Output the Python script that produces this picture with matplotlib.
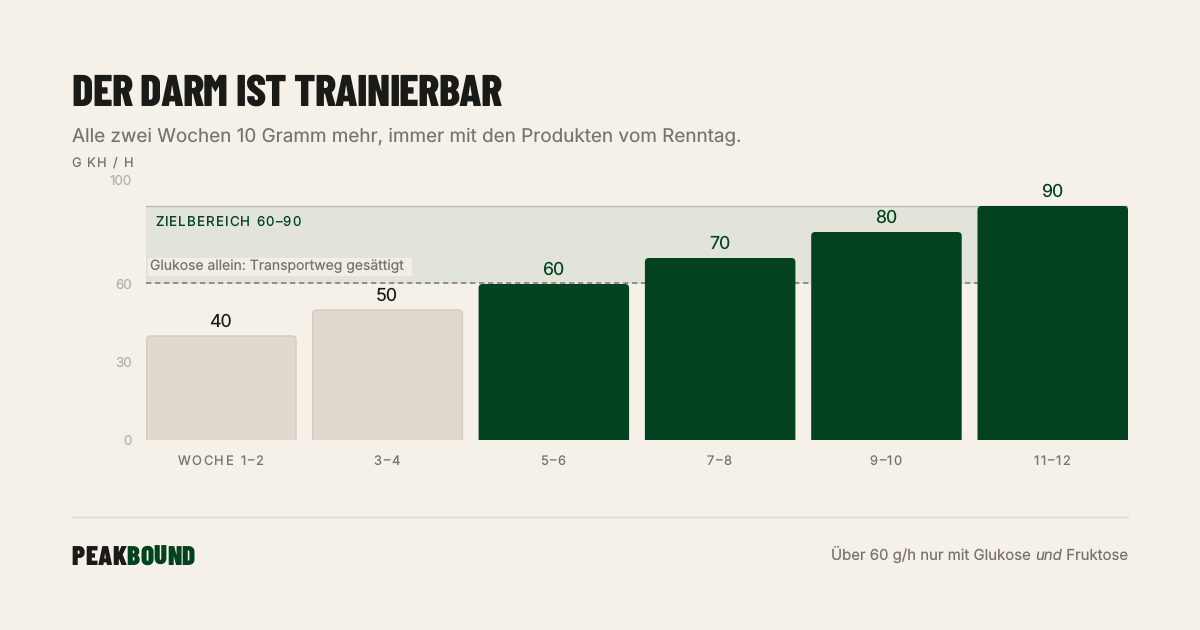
import types
import matplotlib
matplotlib.use("Agg")
import matplotlib.pyplot as plt
from matplotlib.patches import FancyBboxPatch
from matplotlib.text import Text

weeks = ["WOCHE 1–2", "3–4", "5–6", "7–8", "9–10", "11–12"]
carbs = [40, 50, 60, 70, 80, 90]
yticks = [0, 30, 60, 100]
zone_low, zone_high = 60, 90

BG = "#f5f1e9"; GREEN = "#03421e"; INK = "#1a1a17"; BEIGE = "#e2d9ce"; BEIGE_EDGE = "#d6cdc0"
MUTED = "#79736b"; TICK = "#b6b1a8"; ZONE = "#e2e4d9"
W, H = 1200, 630
BODY = ["Inter", "DejaVu Sans"]; COND = ["Barlow Condensed", "Liberation Sans", "DejaVu Sans"]
plt.rcParams["text.hinting"] = "no_hinting"

def fx(x): return x / W
def fy(y): return 1 - y / H

def track(t, spacing, nudge=-1.0):
    """Draw a Text with letter spacing (px); the artist keeps its whole string."""
    def draw(self, renderer):
        if not self.get_visible() or not self.get_text():
            return
        s = self.get_text()
        fp = self.get_fontproperties()
        box = Text.get_window_extent(self, renderer)
        base_d = renderer.get_text_width_height_descent("lp", fp, False)[2]
        total = box.width + spacing * (len(s) - 1)
        ha = self.get_ha()
        x0 = {"left": box.x0, "right": box.x1 - total}.get(ha, (box.x0 + box.x1) / 2 - total / 2)
        y = box.y0 + base_d
        for i, ch in enumerate(s):
            adv = renderer.get_text_width_height_descent(s[:i], fp, False)[0] if i else 0
            Text(x0 + nudge + adv + i * spacing, y, ch, fontproperties=fp, color=self.get_color(),
                 ha="left", va="baseline", transform=None, figure=self.get_figure()).draw(renderer)
    t.draw = types.MethodType(draw, t)
    return t

fig = plt.figure(figsize=(12, 6.3), dpi=100, facecolor=BG)
ax = fig.add_axes([fx(146), fy(440), 982 / W, 260 / H], facecolor=BG)
bw = 0.905
ax.set_xlim(-bw / 2, 5 + bw / 2)
ax.set_ylim(0, 100)
for s in ax.spines.values():
    s.set_visible(False)

# target zone
ax.axhspan(zone_low, zone_high, color=ZONE, lw=0, zorder=1)
ax.axhline(zone_high, color="#b6bcae", lw=1.0, zorder=1.5)
ax.axhline(zone_low + 0.2, color="#85807a", lw=1.2, ls=(0, (3.2, 2.2)), zorder=1.5)
ax.axhline(0, color="#e6e1d8", lw=1, zorder=1.5)

# bars with rounded corners, base clipped by the axes
rect_bars = ax.bar(range(len(carbs)), carbs, width=bw, color="none", lw=0)
aspect = (100 / 260) / ((5 + bw) / 982)
unit_x = (5 + bw) / 982
for i, (bar, v) in enumerate(zip(rect_bars, carbs)):
    hi = v >= zone_low
    r = 4 * unit_x
    inset = 0 if hi else 0.5 * unit_x
    p = FancyBboxPatch((bar.get_x() + r + inset, -5), bar.get_width() - 2 * (r + inset), v + 5 - r * aspect,
                       boxstyle=f"round,pad={r},rounding_size={r}", mutation_aspect=aspect,
                       fc=GREEN if hi else BEIGE, ec=GREEN if hi else BEIGE_EDGE,
                       lw=0 if hi else 1.1, zorder=3, clip_on=True)
    ax.add_patch(p)
    ax.text(i - 0.003, v + 2.3, str(v), ha="center", va="bottom", fontsize=12.8, family=BODY,
            color=GREEN if hi else INK, zorder=4)

ax.set_xticks(range(len(weeks)), weeks)
ax.set_yticks(yticks)
ax.tick_params(axis="both", length=0)
ax.tick_params(axis="x", pad=10.8, labelsize=9.3, labelcolor=MUTED)
ax.tick_params(axis="y", pad=10, labelsize=9.6, labelcolor=TICK)
for t in ax.get_xticklabels():
    t.set_family(BODY)
    track(t, 1.6)
for t in ax.get_yticklabels():
    t.set_family(BODY)
    t.set_va("center_baseline")

# annotations inside the chart
track(fig.text(fx(156), fy(222.5), "ZIELBEREICH 60–90", fontsize=9.6, family=BODY, color=GREEN,
               va="center", zorder=5), 1.1)
fig.patches.append(plt.Rectangle((fx(148), fy(276)), 264 / W, 18 / H, transform=fig.transFigure,
                                 fc=BG, ec="none", alpha=0.82, zorder=4))
fig.text(fx(150), fy(266.5), "Glukose allein: Transportweg gesättigt", fontsize=10.05, family=BODY, color=MUTED,
         va="center", zorder=5)
track(fig.text(fx(72), fy(163), "G KH / H", fontsize=9.3, family=BODY, color=MUTED, va="center"), 1.4)

# header
track(fig.text(fx(71.5), fy(106), "DER DARM IST TRAINIERBAR", fontsize=32, family=COND, weight=800,
               color=INK, va="baseline"), -0.72, nudge=0)
fig.text(fx(72), fy(142), "Alle zwei Wochen 10 Gramm mehr, immer mit den Produkten vom Renntag.",
         fontsize=13.6, family=BODY, color=MUTED, va="baseline")

# footer
fig.add_artist(plt.Line2D([fx(72), fx(1127.5)], [fy(516.5)] * 2, color="#dcd7cd", lw=1))
renderer = fig.canvas.get_renderer()
a = track(fig.text(fx(72), fy(565), "PEAK", fontsize=19.5, family=COND, weight=900, color=INK, va="baseline"),
          0.35, nudge=-0.5)
x = a.get_window_extent(renderer).x1 + 1.6
track(fig.text(x / W, fy(565), "BOUND", fontsize=19.5, family=COND, weight=900, color=GREEN, va="baseline"),
      0.35, nudge=-0.5)

x = 1128
for s, style in [(" Fruktose", "normal"), ("und", "italic"), ("Über 60 g/h nur mit Glukose ", "normal")]:
    t = fig.text(x / W, fy(560), s.replace(" ", "\u00a0"), fontsize=10.75, family=BODY, style=style, color=MUTED,
                 ha="right", va="baseline")
    x = t.get_window_extent(renderer).x0

fig.savefig("out.png", dpi=100, facecolor=BG)
